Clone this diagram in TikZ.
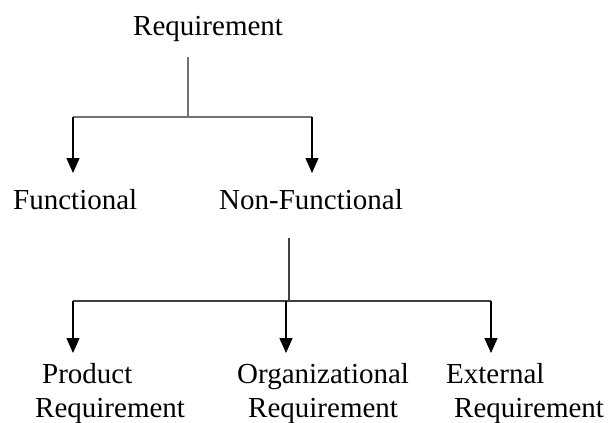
\documentclass[tikz,border=0pt]{standalone}
\usepackage{fontspec}
\setmainfont{Liberation Serif}
\usetikzlibrary{arrows.meta}
\begin{document}
\begin{tikzpicture}[x=1pt,y=-1pt,
  lbl/.style={anchor=base west,inner sep=0pt,font=\fontsize{29}{34}\selectfont},
  stem/.style={draw=black!55,line width=1.2pt},
  stemdark/.style={draw=black!75,line width=1.3pt},
  arr/.style={draw=black,line width=1.4pt,-{Triangle[length=15pt,width=13pt]}}]
\useasboundingbox (0,0) rectangle (608,423);
% labels
\node[lbl] (req)  at (133,35)  {Requirement};
\node[lbl] (fun)  at (13,209)  {Functional};
\node[lbl] (nonf) at (219,209) {Non-Functional};
\node[lbl] (prod) at (42,383)  {Product};
\node[lbl] (prodr) at (35,417) {Requirement};
\node[lbl] (org)  at (237,383) {Organizational};
\node[lbl] (orgr) at (248,417) {Requirement};
\node[lbl] (ext)  at (446,383) {External};
\node[lbl] (extr) at (454,417) {Requirement};
% junction coordinates
\coordinate (a0) at (188,57);
\coordinate (a1) at (188,117);
\coordinate (aL) at (73,117);
\coordinate (aR) at (312,117);
\coordinate (tfun) at (73,173);
\coordinate (tnonf) at (312,173);
\coordinate (b0) at (289,238);
\coordinate (b1) at (289,301);
\coordinate (bL) at (73,301);
\coordinate (bM) at (286,301);
\coordinate (bR) at (491,301);
\coordinate (tprod) at (73,353);
\coordinate (torg) at (286,353);
\coordinate (text) at (491,353);
% top tree
\draw[stem] (a0) -- (a1);
\draw[stem] (aL) -- (aR);
\draw[arr] (aL) -- (tfun);
\draw[arr] (aR) -- (tnonf);
% bottom tree
\draw[stemdark] (b0) -- (b1);
\draw[stemdark] (bL) -- (bR);
\draw[arr] (bL) -- (tprod);
\draw[arr] (bM) -- (torg);
\draw[arr] (bR) -- (text);
\end{tikzpicture}
\end{document}
